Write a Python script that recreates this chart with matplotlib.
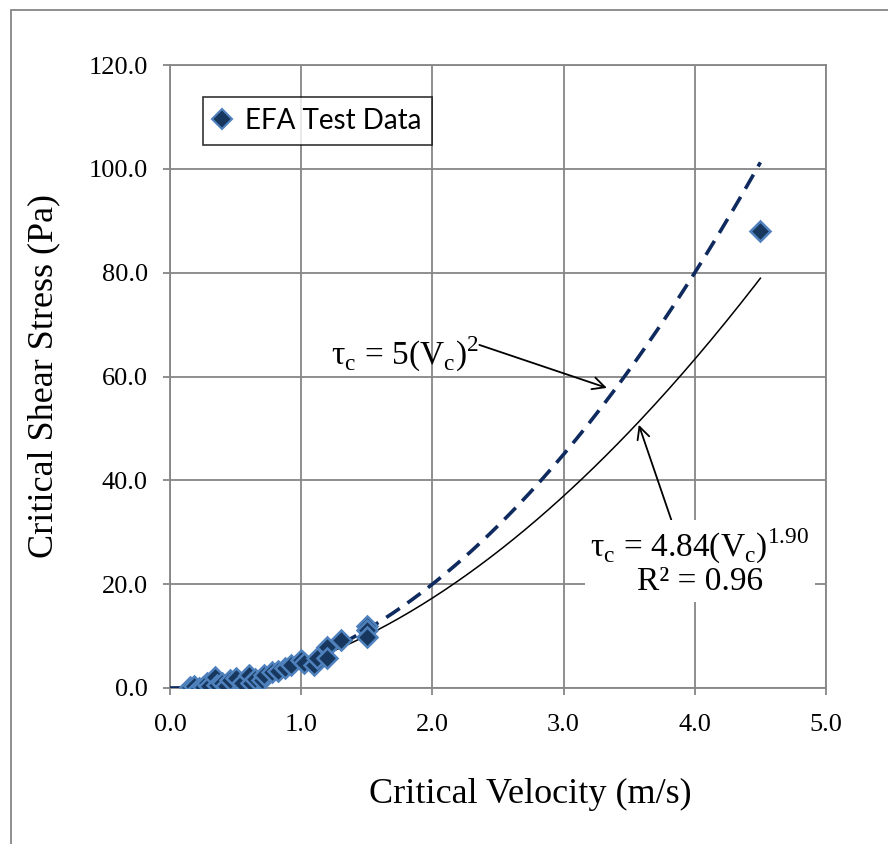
import numpy as np
import matplotlib
matplotlib.use("Agg")
import matplotlib.pyplot as plt
from matplotlib.lines import Line2D
from matplotlib.patches import Rectangle

# EFA test data
velocity = [0.15, 0.18, 0.22, 0.25, 0.28, 0.30, 0.34, 0.36, 0.40, 0.43, 0.46,
            0.50, 0.55, 0.60, 0.62, 0.65, 0.70, 0.72, 0.78, 0.82, 0.88, 0.92,
            1.00, 1.02, 1.10, 1.12, 1.20, 1.20, 1.30, 1.50, 1.50, 1.50, 4.50]
shear = [0.1, 0.3, 0.0, 0.2, 1.0, 0.4, 2.2, 0.5, 1.0, 0.3, 1.5,
         2.0, 0.9, 2.5, 1.0, 1.8, 1.6, 2.5, 3.0, 3.2, 3.8, 4.4,
         5.3, 4.8, 4.4, 5.8, 7.9, 5.8, 9.2, 12.0, 11.2, 9.9, 88.0]

# curves as drawn on the chart
simple_coef, simple_exp = 5.0, 2.0
fit_coef, fit_exp = 4.74, 1.87

x_ticks = [0, 1, 2, 3, 4, 5]
y_ticks = [0, 20, 40, 60, 80, 100, 120]

serif = "Liberation Serif"
grid_color = "#868686"

fig = plt.figure(figsize=(8.88, 8.44), dpi=100)
ax = fig.add_axes([170 / 888, 156 / 844, 656 / 888, 623 / 844])

# outer chart frame
fig.patches.append(Rectangle((11 / 888, -0.1), 1.0, (834 / 844) + 0.1,
                             transform=fig.transFigure, fill=False,
                             edgecolor=grid_color, linewidth=1.3))

v_simple = np.linspace(0, 4.5, 200)
ax.plot(v_simple, simple_coef * v_simple ** simple_exp, color="#0f2a5e",
        linewidth=2.6, dashes=(4.5, 2.6), zorder=3)

v_fit = np.linspace(0.15, 4.5, 200)
ax.plot(v_fit, fit_coef * v_fit ** fit_exp, color="black", linewidth=1.1, zorder=3)

ax.plot(velocity, shear, linestyle="none", marker="D", markersize=10.5,
        markerfacecolor="#17375e", markeredgecolor="#4f81bd",
        markeredgewidth=1.8, zorder=4)

ax.set_xlim(0, 5)
ax.set_ylim(0, 120)
ax.set_xticks(x_ticks)
ax.set_yticks(y_ticks)
ax.set_xticklabels([f"{t:.1f}" for t in x_ticks], fontfamily=serif, fontsize=19)
ax.set_yticklabels([f"{t:.1f}" for t in y_ticks], fontfamily=serif, fontsize=19)
ax.tick_params(axis="x", direction="out", length=5, width=1.3, color=grid_color, pad=14)
ax.tick_params(axis="y", direction="out", length=5, width=1.3, color=grid_color, pad=11)

ax.grid(True, color=grid_color, linewidth=1.3)
ax.set_axisbelow(True)
for side in ax.spines.values():
    side.set_color(grid_color)
    side.set_linewidth(1.3)

ax.set_xlabel("Critical Velocity (m/s)", fontfamily=serif, fontsize=26)
ax.xaxis.set_label_coords(0.55, -0.145)
ax.set_ylabel("Critical Shear Stress (Pa)", fontfamily=serif, fontsize=26, labelpad=20)

# equation labels
ax.annotate("τ$_\\mathregular{c}$ = 5(V$_\\mathregular{c}$)$^\\mathregular{2}$",
            xy=(3.33, 57.8), xytext=(1.23, 64.2), fontfamily=serif, fontsize=24,
            ha="left", va="center",
            arrowprops=dict(arrowstyle="->", color="black", lw=1.3,
                            mutation_scale=22, shrinkA=0, shrinkB=0,
                            patchA=None, relpos=(1.0, 0.75)))

ax.annotate("τ$_\\mathregular{c}$ = 4.84(V$_\\mathregular{c}$)$^\\mathregular{1.90}$\nR² = 0.96",
            xy=(3.573, 50.7), xytext=(4.04, 24.3), fontfamily=serif, fontsize=24,
            ha="center", va="center", linespacing=1.0,
            bbox=dict(boxstyle="square,pad=0.15", facecolor="white", edgecolor="none"),
            arrowprops=dict(arrowstyle="->", color="black", lw=1.3,
                            mutation_scale=22, shrinkA=0, shrinkB=0,
                            relpos=(0.38, 1.0)))

handle = Line2D([], [], linestyle="none", marker="D", markersize=10,
                markerfacecolor="#17375e", markeredgecolor="#4f81bd", markeredgewidth=1.5)
leg = ax.legend([handle], ["EFA Test Data"], loc="upper left",
                bbox_to_anchor=(33 / 656, 591 / 623), prop={"family": "Lato", "size": 20},
                frameon=True, fancybox=False, handlelength=0.6, handletextpad=0.5,
                borderpad=0.4, borderaxespad=0)
leg.get_frame().set_edgecolor("black")
leg.get_frame().set_linewidth(1.2)

fig.savefig("out.png", dpi=100)
